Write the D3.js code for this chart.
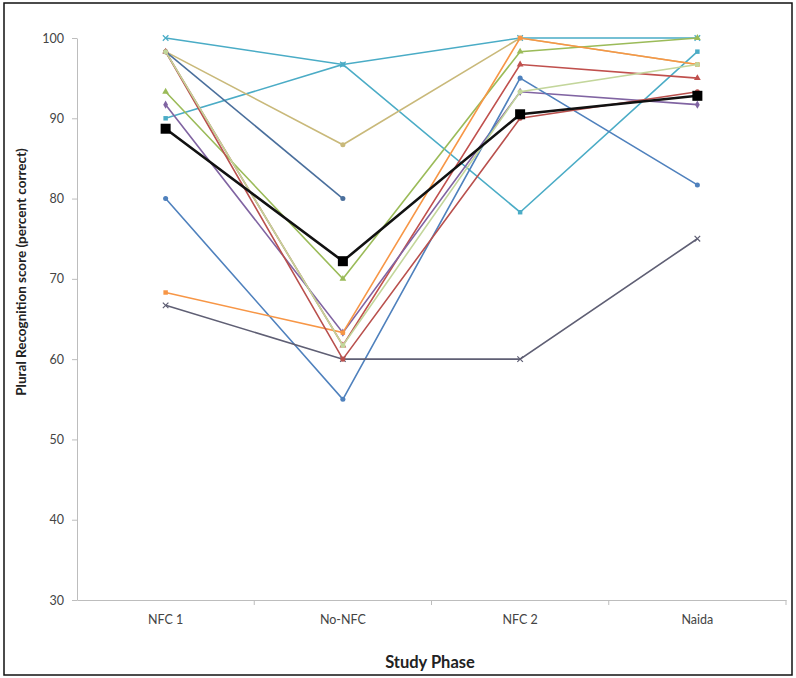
<!DOCTYPE html>
<html lang="en">
<head>
  <meta charset="UTF-8">
  <title>Plural Recognition by Study Phase</title>
  <script src="https://d3js.org/d3.v7.min.js"></script>
  <style>
    body { margin: 0; background: #fff; }
    text { font-family: Lato, "Open Sans", sans-serif; }
    .axis .domain { stroke: #bdbdbd; }
    .axis line { stroke: #bdbdbd; }
    .axis text { fill: #444; font-size: 12.5px; }
  </style>
</head>
<body>
  <svg id="chart" width="796" height="678"></svg>

  <script>
    // categories along the x axis
    const phases = ["NFC 1", "No-NFC", "NFC 2", "Naida"];
    const yTicks = [30, 40, 50, 60, 70, 80, 90, 100];

    // individual participants (null = no score)
    const s1  = [100, 96.7, 100, 100];
    const s2  = [90, 96.7, 78.3, 98.3];
    const s3  = [98.3, 86.7, 100, 96.7];
    const s4  = [98.3, 61.7, 96.7, 95];
    const s5  = [93.3, 70, 98.3, 100];
    const s6  = [91.7, 63.3, 93.3, 91.7];
    const s7  = [80, 55, 95, 81.7];
    const s8  = [68.3, 63.3, 100, 96.7];
    const s9  = [66.7, 60, 60, 75];
    const s10 = [98.3, 80, null, null];
    const s11 = [98.3, 60, 90, 93.3];
    const s12 = [98.3, 61.7, 93.3, 96.7];
    // group mean
    const mean = [88.7, 72.2, 90.5, 92.8];

    const svg = d3.select("#chart");
    const margins = { top: 38, right: 10, bottom: 78, left: 77 };
    const width = +svg.attr("width");
    const height = +svg.attr("height");

    // outer frame
    svg.append("rect")
      .attr("x", 4).attr("y", 3)
      .attr("width", 788).attr("height", 672)
      .attr("fill", "none")
      .attr("stroke", "#111")
      .attr("stroke-width", 1.5);

    const xBand = d3.scaleBand()
      .domain(phases)
      .range([margins.left, width - margins.right])
      .paddingInner(0).paddingOuter(0);
    const xPos = d => xBand(d) + xBand.bandwidth() / 2;

    const yScale = d3.scaleLinear()
      .domain([30, 100])
      .range([height - margins.bottom, margins.top]);

    // y axis
    svg.append("g")
      .attr("class", "axis")
      .attr("transform", `translate(${margins.left},0)`)
      .call(d3.axisLeft(yScale).tickValues(yTicks).tickSize(5).tickSizeOuter(0).tickPadding(8));

    // x axis: labels centred, ticks on category borders
    const xAxisG = svg.append("g")
      .attr("class", "axis")
      .attr("transform", `translate(0,${yScale(30)})`)
      .call(d3.axisBottom(xBand).tickSize(0).tickSizeOuter(0).tickPadding(15));
    xAxisG.selectAll(".tick line").remove();
    xAxisG.selectAll("line.border")
      .data(phases.slice(1).concat(["end"]))
      .join("line").attr("class", "border")
      .attr("x1", d => d === "end" ? xBand.range()[1] : xBand(d))
      .attr("x2", d => d === "end" ? xBand.range()[1] : xBand(d))
      .attr("y1", 0).attr("y2", 5);

    // axis titles
    svg.append("text")
      .attr("transform", "translate(26,272) rotate(-90)")
      .attr("text-anchor", "middle")
      .attr("font-size", "13.5px")
      .attr("font-weight", "bold")
      .attr("fill", "#222")
      .text("Plural Recognition  score (percent correct)");

    svg.append("text")
      .attr("x", 430).attr("y", 668)
      .attr("text-anchor", "middle")
      .attr("font-size", "16.5px")
      .attr("font-weight", "bold")
      .attr("fill", "#222")
      .text("Study Phase");

    const series = [
      { v: s1,  color: "#4aacc6", marker: "x" },
      { v: s2,  color: "#4bacc6", marker: "square" },
      { v: s3,  color: "#c9b97a", marker: "circle" },
      { v: s4,  color: "#c0504d", marker: "triangle" },
      { v: s5,  color: "#9bbb59", marker: "triangle" },
      { v: s6,  color: "#8064a2", marker: "diamond" },
      { v: s7,  color: "#4f81bd", marker: "circle" },
      { v: s8,  color: "#f79646", marker: "square" },
      { v: s9,  color: "#5f5f74", marker: "x" },
      { v: s10, color: "#4a6f9c", marker: "circle" },
      { v: s11, color: "#b9504d", marker: "circle" },
      { v: s12, color: "#c3d69b", marker: "circle" }
    ];

    const line = d3.line()
      .defined(d => d.y !== null)
      .x(d => xPos(d.x))
      .y(d => yScale(d.y));

    const symbolOf = {
      circle: d3.symbolCircle, square: d3.symbolSquare, triangle: d3.symbolTriangle,
      diamond: d3.symbolDiamond, x: d3.symbolX
    };

    const plot = svg.append("g");
    series.forEach(s => {
      const pts = phases.map((p, i) => ({ x: p, y: s.v[i] }));
      plot.append("path")
        .datum(pts)
        .attr("fill", "none")
        .attr("stroke", s.color)
        .attr("stroke-width", 1.6)
        .attr("d", line);
      plot.selectAll(null)
        .data(pts.filter(d => d.y !== null))
        .join("path")
        .attr("transform", d => `translate(${xPos(d.x)},${yScale(d.y)})`)
        .attr("d", d3.symbol().type(symbolOf[s.marker]).size(s.marker === "x" ? 22 : 20))
        .attr("fill", s.marker === "x" ? "none" : s.color)
        .attr("stroke", s.color)
        .attr("stroke-width", s.marker === "x" ? 1.2 : 0);
    });

    // mean line on top
    const meanPts = phases.map((p, i) => ({ x: p, y: mean[i] }));
    plot.append("path")
      .datum(meanPts)
      .attr("fill", "none")
      .attr("stroke", "#111")
      .attr("stroke-width", 2.6)
      .attr("d", line);
    plot.selectAll("rect.mean")
      .data(meanPts)
      .join("rect").attr("class", "mean")
      .attr("x", d => xPos(d.x) - 5)
      .attr("y", d => yScale(d.y) - 5)
      .attr("width", 10).attr("height", 10)
      .attr("fill", "#000");
  </script>
</body>
</html>
